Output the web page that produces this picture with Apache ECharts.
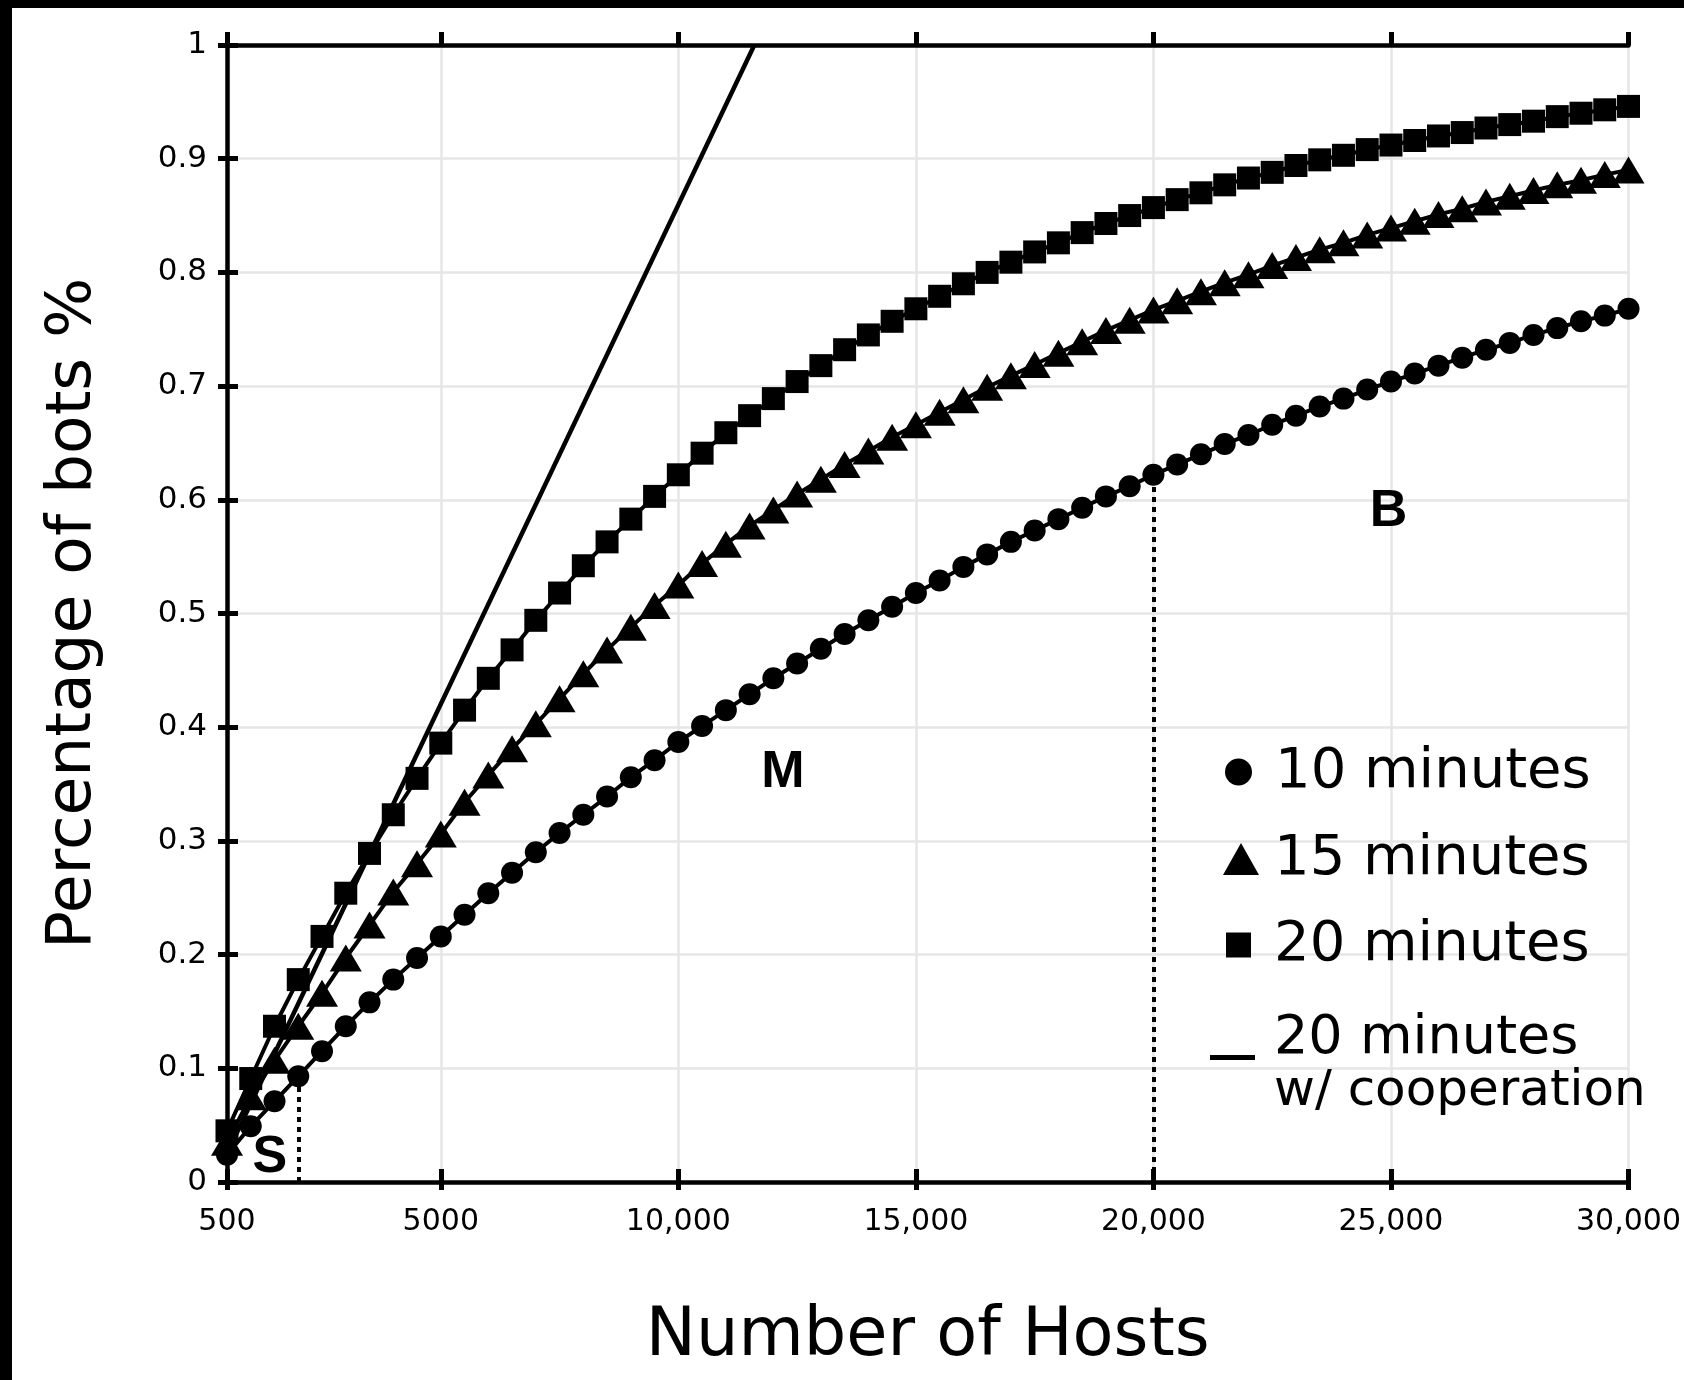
<!DOCTYPE html>
<html>
<head>
<meta charset="utf-8">
<script src="https://cdn.jsdelivr.net/npm/echarts@6.0.0/dist/echarts.min.js"></script>
<style>
  html, body { margin: 0; padding: 0; width: 1684px; height: 1380px; overflow: hidden; background: #fff; }
  #chart { position: absolute; left: 0; top: 0; width: 1684px; height: 1380px; }
  .edge { position: absolute; background: #000; }
</style>
</head>
<body>
<div id="chart"></div>
<div class="edge" style="left:0;top:0;width:12px;height:1380px;"></div>
<div class="edge" style="left:0;top:0;width:1684px;height:8px;"></div>
<script>
// number of hosts, one point every 500
const hosts = [
  500, 1000, 1500, 2000, 2500, 3000, 3500, 4000, 4500, 5000,
  5500, 6000, 6500, 7000, 7500, 8000, 8500, 9000, 9500, 10000,
  10500, 11000, 11500, 12000, 12500, 13000, 13500, 14000, 14500, 15000,
  15500, 16000, 16500, 17000, 17500, 18000, 18500, 19000, 19500, 20000,
  20500, 21000, 21500, 22000, 22500, 23000, 23500, 24000, 24500, 25000,
  25500, 26000, 26500, 27000, 27500, 28000, 28500, 29000, 29500, 30000
];
const tenMin = [
  0.024, 0.049, 0.071, 0.093, 0.115, 0.137, 0.158, 0.178, 0.197, 0.216,
  0.235, 0.254, 0.272, 0.290, 0.307, 0.323, 0.339, 0.356, 0.371, 0.387,
  0.401, 0.415, 0.429, 0.443, 0.456, 0.469, 0.482, 0.494, 0.506, 0.518,
  0.529, 0.541, 0.552, 0.563, 0.573, 0.583, 0.593, 0.603, 0.612, 0.622,
  0.631, 0.640, 0.649, 0.657, 0.666, 0.674, 0.682, 0.689, 0.697, 0.704,
  0.711, 0.718, 0.725, 0.732, 0.738, 0.745, 0.751, 0.757, 0.762, 0.768
];
const fifteenMin = [
  0.035, 0.075, 0.107, 0.137, 0.166, 0.197, 0.226, 0.255, 0.280, 0.306,
  0.334, 0.358, 0.381, 0.403, 0.425, 0.447, 0.468, 0.488, 0.507, 0.525,
  0.544, 0.561, 0.577, 0.591, 0.605, 0.618, 0.631, 0.643, 0.655, 0.666,
  0.677, 0.688, 0.699, 0.709, 0.719, 0.729, 0.739, 0.749, 0.758, 0.767,
  0.775, 0.783, 0.791, 0.798, 0.806, 0.813, 0.820, 0.826, 0.833, 0.839,
  0.845, 0.851, 0.856, 0.862, 0.867, 0.872, 0.877, 0.881, 0.886, 0.890
];
const twentyMin = [
  0.045, 0.091, 0.137, 0.178, 0.216, 0.254, 0.289, 0.323, 0.355, 0.386,
  0.415, 0.443, 0.468, 0.494, 0.518, 0.542, 0.563, 0.583, 0.603, 0.622,
  0.641, 0.659, 0.674, 0.689, 0.704, 0.718, 0.732, 0.745, 0.757, 0.768,
  0.779, 0.790, 0.800, 0.809, 0.818, 0.826, 0.835, 0.843, 0.850, 0.857,
  0.864, 0.870, 0.877, 0.883, 0.888, 0.894, 0.899, 0.903, 0.908, 0.912,
  0.916, 0.920, 0.923, 0.927, 0.930, 0.933, 0.937, 0.940, 0.943, 0.946
];
// 20 minutes w/ cooperation (straight line, runs off the top)
const coopHosts = [500, 11600];
const coopValues = [0.025, 1.0];

const xTickValues = [500, 5000, 10000, 15000, 20000, 25000, 30000];
const xTickLabels = ['500', '5000', '10,000', '15,000', '20,000', '25,000', '30,000'];

// S / M / B regions
const regionNames = ['S', 'M', 'B'];
const regionHosts = [1400, 12200, 24950];
const regionValues = [0.021, 0.360, 0.590];
// dotted boundaries drop from the 10 minute curve
const cutoffHosts = [2000, 20000];

const seriesNames = ['10 minutes', '15 minutes', '20 minutes', '20 minutes w/ cooperation'];

const FONT = 'DejaVu Sans';

function zip(xs, ys) {
  return xs.map((x, i) => [x, ys[i]]);
}

const chart = echarts.init(document.getElementById('chart'));

const tickLabelFmt = v => {
  const i = xTickValues.indexOf(v);
  return i >= 0 ? xTickLabels[i] : '';
};

function xAxisBase(position, inside, len, extra) {
  return Object.assign({
    type: 'value',
    position: position,
    min: 500,
    max: 30000,
    axisLine: { show: false },
    axisTick: { show: true, inside: inside, length: len, customValues: xTickValues,
      lineStyle: { color: '#000', width: 5 } },
    axisLabel: { show: false },
    splitLine: { show: false }
  }, extra || {});
}

function makeLegend(name, icon, w, h, left, top, pad) {
  return {
    data: [{ name: name, icon: icon }],
    left: left,
    top: top,
    padding: 0,
    itemWidth: w,
    itemHeight: h,
    selectedMode: false,
    textStyle: {
      fontFamily: FONT, fontSize: 56, color: '#000', lineHeight: 60,
      padding: [0, 0, 0, pad]
    }
  };
}

const cutoffLines = cutoffHosts.map(h => [
  { coord: [h, 0] },
  { coord: [h, tenMin[hosts.indexOf(h)]] }
]);

const regionPoints = regionNames.map((n, i) => ({
  name: n, coord: [regionHosts[i], regionValues[i]]
}));

const option = {
  backgroundColor: '#fff',
  animation: false,
  grid: { left: 227, right: 52, top: 45, bottom: 198 },
  legend: [
    makeLegend(seriesNames[0], 'circle', 27, 27, 1225, 742, 18),
    makeLegend(seriesNames[1], 'triangle', 36, 32, 1223, 829, 10),
    makeLegend(seriesNames[2], 'rect', 25, 25, 1226, 915, 18),
    {
      data: [{ name: seriesNames[3], icon: 'rect' }],
      left: 1210,
      top: 1012,
      padding: 0,
      itemWidth: 45,
      itemHeight: 5,
      selectedMode: false,
      formatter: () => '{a|20 minutes}\n{b|w/ cooperation}',
      textStyle: {
        fontFamily: FONT, color: '#000', padding: [0, 0, 0, 14],
        rich: {
          a: { fontFamily: FONT, fontSize: 54, lineHeight: 69, color: '#000' },
          b: { fontFamily: FONT, fontSize: 50, lineHeight: 37, color: '#000' }
        }
      }
    }
  ],
  xAxis: [
    {
      type: 'value',
      position: 'bottom',
      min: 500,
      max: 30000,
      name: 'Number of Hosts',
      nameLocation: 'middle',
      nameGap: 122,
      nameTextStyle: { fontFamily: FONT, fontSize: 67, color: '#000' },
      axisLine: { show: true, onZero: false, lineStyle: { color: '#000', width: 4.5 } },
      axisTick: { show: true, length: 7, customValues: xTickValues,
        lineStyle: { color: '#000', width: 5 } },
      axisLabel: { customValues: xTickValues, formatter: tickLabelFmt, margin: 25,
        fontFamily: FONT, fontSize: 30, color: '#000' },
      splitLine: { show: true, lineStyle: { color: '#e6e6e6', width: 2.5 } }
    },
    xAxisBase('bottom', true, 13),
    xAxisBase('top', false, 13, {
      axisLine: { show: true, onZero: false, lineStyle: { color: '#000', width: 4.5 } }
    }),
    xAxisBase('top', true, 8)
  ],
  yAxis: [
    {
      type: 'value',
      position: 'left',
      min: 0,
      max: 1,
      interval: 0.1,
      name: 'Percentage of bots %',
      nameLocation: 'middle',
      nameGap: 122,
      nameTextStyle: { fontFamily: FONT, fontSize: 63, color: '#000' },
      axisLine: { show: true, onZero: false, lineStyle: { color: '#000', width: 4.5 } },
      axisTick: { show: true, length: 9, lineStyle: { color: '#000', width: 5 } },
      axisLabel: { margin: 20, fontFamily: FONT, fontSize: 31, color: '#000' },
      splitLine: { show: true, lineStyle: { color: '#e6e6e6', width: 2.5 } }
    },
    {
      type: 'value',
      position: 'left',
      min: 0,
      max: 1,
      interval: 0.1,
      axisLine: { show: false },
      axisTick: { show: true, inside: true, length: 11, lineStyle: { color: '#000', width: 5 } },
      axisLabel: { show: false },
      splitLine: { show: false }
    }
  ],
  series: [
    {
      name: seriesNames[3],
      type: 'line',
      data: zip(coopHosts, coopValues),
      showSymbol: false,
      symbol: 'none',
      color: '#000',
      lineStyle: { color: '#000', width: 4.5 },
      z: 2
    },
    {
      name: seriesNames[2],
      type: 'line',
      data: zip(hosts, twentyMin),
      symbol: 'rect',
      symbolSize: 23,
      color: '#000',
      itemStyle: { color: '#000' },
      lineStyle: { color: '#000', width: 4 },
      z: 3
    },
    {
      name: seriesNames[1],
      type: 'line',
      data: zip(hosts, fifteenMin),
      symbol: 'triangle',
      symbolSize: [32, 27],
      color: '#000',
      itemStyle: { color: '#000' },
      lineStyle: { color: '#000', width: 4 },
      z: 3
    },
    {
      name: seriesNames[0],
      type: 'line',
      data: zip(hosts, tenMin),
      symbol: 'circle',
      symbolSize: 22,
      color: '#000',
      itemStyle: { color: '#000' },
      lineStyle: { color: '#000', width: 4 },
      z: 3,
      markLine: {
        silent: true,
        symbol: ['none', 'none'],
        label: { show: false },
        lineStyle: { color: '#000', width: 4, type: [5, 5] },
        data: cutoffLines
      },
      markPoint: {
        silent: true,
        symbol: 'rect',
        symbolSize: 1,
        itemStyle: { color: 'rgba(0,0,0,0)' },
        label: {
          show: true,
          position: 'inside',
          formatter: '{b}',
          color: '#000',
          fontFamily: '"Liberation Sans Narrow", "Liberation Sans", sans-serif',
          fontWeight: 'bold',
          fontSize: 52
        },
        data: regionPoints
      }
    }
  ]
};

chart.setOption(option);
</script>
</body>
</html>
